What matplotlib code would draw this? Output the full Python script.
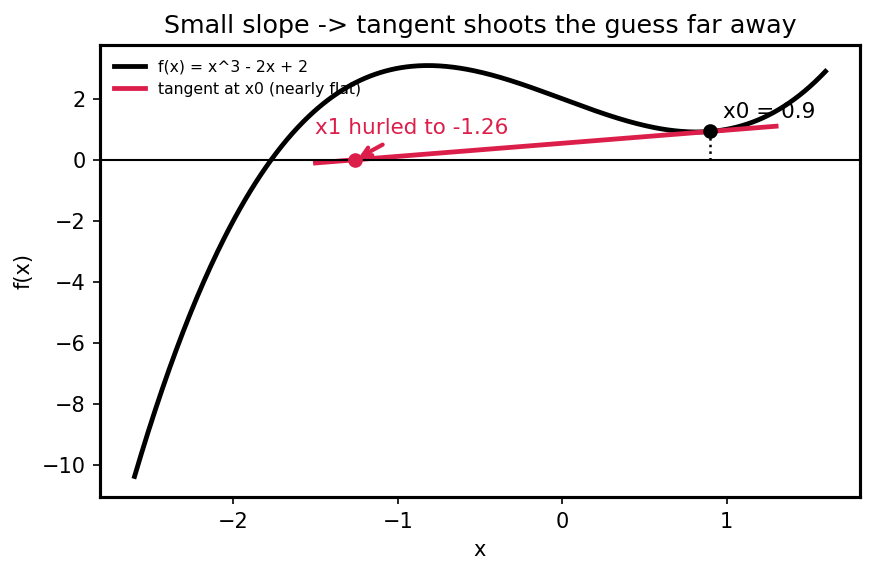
import numpy as np
import matplotlib
matplotlib.use("Agg")
import matplotlib.pyplot as plt

# cubic f(x) = x^3 - 2x + 2 (coefficients as shown in legend)
coeffs = [1, 0, -2, 2]
x_range = [-2.6, 1.6]
x0 = 0.9
tangent_range = [-1.5, 1.3]
x1_label = "-1.26"

xs = np.linspace(x_range[0], x_range[1], 400)
ys = np.polyval(coeffs, xs)
f0 = np.polyval(coeffs, x0)
slope = np.polyval(np.polyder(coeffs), x0)
x1 = x0 - f0 / slope
tx = np.linspace(tangent_range[0], tangent_range[1], 50)
ty = f0 + slope * (tx - x0)

crimson = "#DC1E4A"

fig = plt.figure(figsize=(5.82, 3.82), dpi=150)
ax = fig.add_axes([100/873, 1-497/573, 760/873, 452/573])
ax.plot(xs, ys, color="black", lw=2.3, label="f(x) = x^3 - 2x + 2")
ax.plot(tx, ty, color=crimson, lw=2.3, label="tangent at x0 (nearly flat)")
ax.axhline(0, color="black", lw=1)
ax.plot([x0, x0], [0, f0], color="black", ls=":", lw=1.2)
ax.plot([x0], [f0], "o", color="black", ms=6)
ax.plot([x1], [0], "o", color=crimson, ms=6)
ax.text(x0 + 0.08, 1.25, "x0 = 0.9", fontsize=10.3, ha="left", va="bottom")
ax.annotate("x1 hurled to " + x1_label, xy=(x1, 0), xytext=(-1.5, 0.7),
            fontsize=10.3, color=crimson, ha="left", va="bottom",
            arrowprops=dict(arrowstyle="->", color=crimson, lw=2))
ax.set_title("Small slope -> tangent shoots the guess far away", fontsize=12.2)
ax.set_xlabel("x")
ax.set_ylabel("f(x)")
for s in ax.spines.values():
    s.set_linewidth(1.5)
ax.legend(loc="upper left", fontsize=7.5, frameon=False)
fig.savefig("out.png", dpi=150)
